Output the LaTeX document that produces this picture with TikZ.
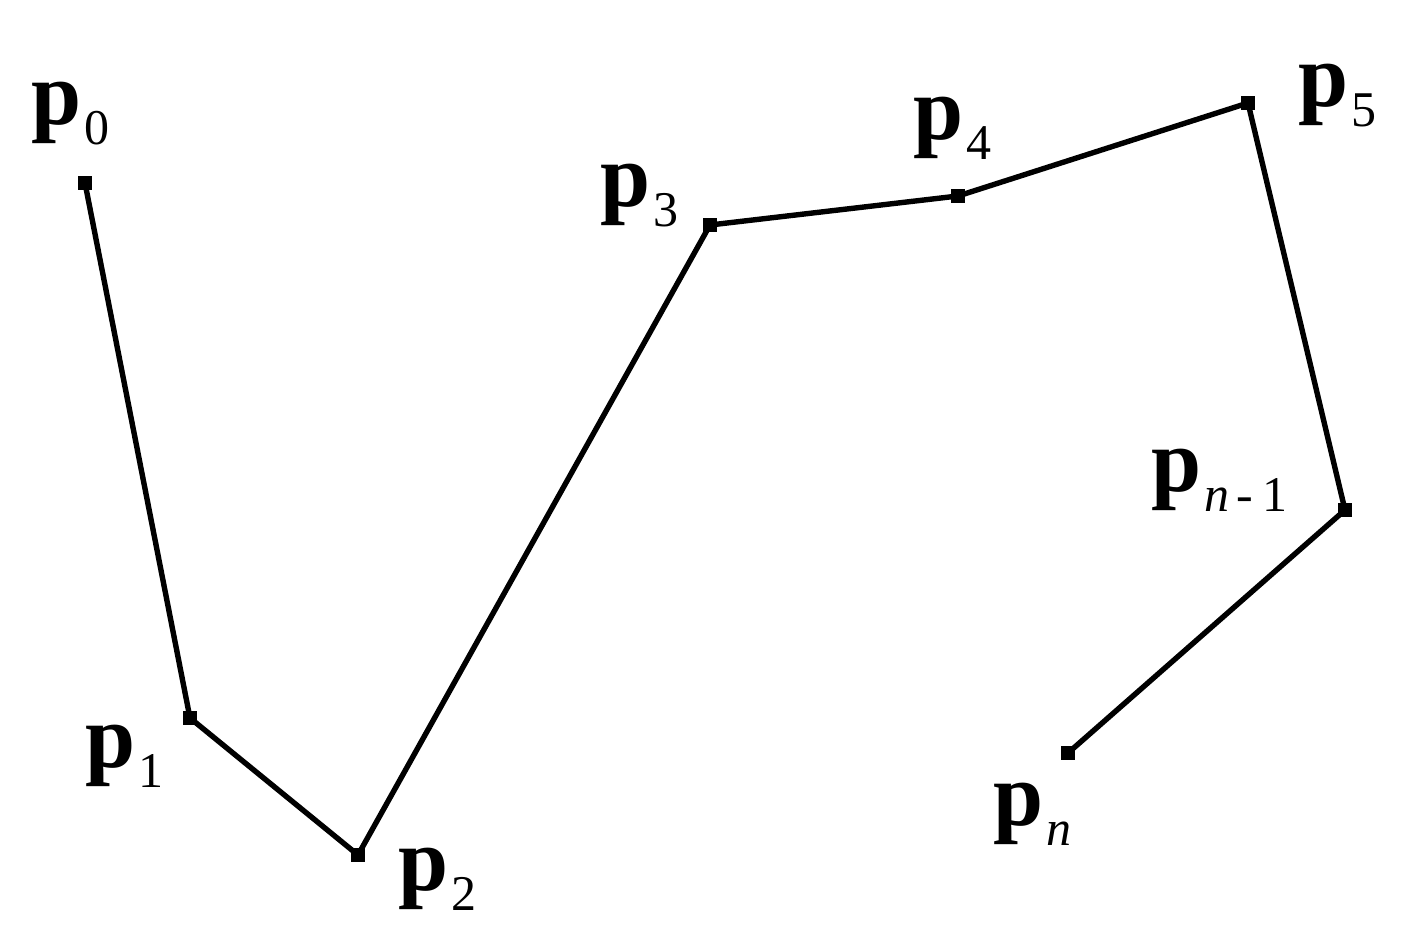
\documentclass[tikz,border=0pt]{standalone}
\usepackage{fontspec}
\setmainfont{Liberation Serif}
\newcommand\mainsz{\fontsize{90}{90}\selectfont}
\newcommand\subsz{\fontsize{50}{50}\selectfont}
\newcommand\plab[1]{{\mainsz\bfseries p}\hspace{3pt}\raisebox{-20pt}{\subsz #1}}
\begin{document}
\begin{tikzpicture}[x=1pt,y=-1pt,
  vertex/.style={rectangle,fill=black,minimum size=14pt,inner sep=0pt},
  lab/.style={anchor=base west,inner sep=0pt,outer sep=0pt},
  poly/.style={line width=5.4pt,line join=miter,black}]
\useasboundingbox (0,0) rectangle (1406,944);
\fill[white] (0,0) rectangle (1406,944);
% vertices
\node[vertex] (q0) at (85,183) {};
\node[vertex] (q1) at (190,718) {};
\node[vertex] (q2) at (358,855) {};
\node[vertex] (q3) at (710,225) {};
\node[vertex] (q4) at (958,196) {};
\node[vertex] (q5) at (1248,103) {};
\node[vertex] (qm) at (1345,510) {};
\node[vertex] (qn) at (1068,753) {};
% polygon
\draw[poly] (q0.center) -- (q1.center) -- (q2.center) -- (q3.center) -- (q4.center) -- (q5.center) -- (qm.center) -- (qn.center);
% labels
\node[lab] (l0) at (31,125) {\plab{0}};
\node[lab] (l1) at (85,767) {\plab{1}};
\node[lab] (l2) at (398,890) {\plab{2}};
\node[lab] (l3) at (600,207) {\plab{3}};
\node[lab] (l4) at (913,140) {\plab{4}};
\node[lab] (l5) at (1298,107) {\plab{5}};
\node[lab] (lm) at (1151,491) {\plab{\textit{n}\hspace{7pt}-\hspace{10pt}1}};
\node[lab] (ln) at (993,825) {\plab{\textit{n}}};
\end{tikzpicture}
\end{document}
